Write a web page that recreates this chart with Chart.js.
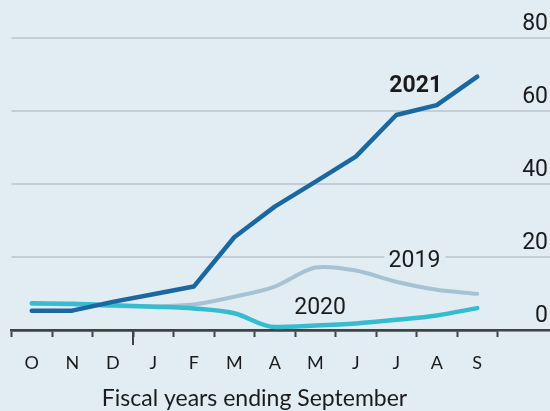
<!DOCTYPE html>
<html>
<head>
<meta charset="utf-8">
<script src="https://cdn.jsdelivr.net/npm/chart.js@4.4.0/dist/chart.umd.min.js"></script>
<style>
  body { margin: 0; background: #e2ecf3; }
  canvas { display: block; }
</style>
</head>
<body>
<canvas id="chart" width="550" height="411"></canvas>
<script>
// Months of the fiscal year (Oct - Sep)
const months = ['O', 'N', 'D', 'J', 'F', 'M', 'A', 'M', 'J', 'J', 'A', 'S'];

// Series values
const fy2021 = [5.3, 5.3, 7.7, 9.8, 11.9, 25.4, 33.8, 40.6, 47.5, 58.9, 61.6, 69.4];
const fy2020 = [7.3, 7.2, 6.8, 6.4, 5.9, 4.6, 0.8, 1.2, 1.8, 2.8, 4.0, 6.0];
const fy2019 = [7.2, 7.0, 6.6, 6.5, 7.0, 9.1, 11.9, 17.1, 16.3, 13.2, 11.0, 9.9];

const yTicks = [0, 20, 40, 60, 80];
const xTitle = 'Fiscal years ending September';

const BG = '#e2ecf3';
const GRID = '#c5ced5';
const AXIS = '#3f4346';
const TEXT = '#1b1b1b';
const NARROW = "'Liberation Sans Narrow', 'Arial Narrow', Roboto, sans-serif";

// background, gap behind "2019", long year tick, series names
const decor = {
  id: 'decor',
  beforeDraw(chart) {
    const { ctx, width, height } = chart;
    ctx.save();
    ctx.fillStyle = BG;
    ctx.fillRect(0, 0, width, height);
    ctx.restore();
  },
  beforeDatasetsDraw(chart) {
    const { ctx, scales: { x, y } } = chart;
    const cx = x.getPixelForValue(9.45);
    ctx.save();
    ctx.fillStyle = BG;
    ctx.fillRect(cx - 30, y.getPixelForValue(20) - 4, 61, 8);
    ctx.restore();
  },
  afterDatasetsDraw(chart) {
    const { ctx, scales: { x, y } } = chart;
    ctx.save();
    ctx.fillStyle = TEXT;
    ctx.textAlign = 'center';
    ctx.textBaseline = 'alphabetic';
    ctx.font = 'bold 23px ' + NARROW;
    ctx.fillText('2021', x.getPixelForValue(9.48), y.getPixelForValue(65.3));
    ctx.font = '23px ' + NARROW;
    ctx.fillText('2019', x.getPixelForValue(9.45), y.getPixelForValue(17.2));
    ctx.fillText('2020', x.getPixelForValue(7.12), y.getPixelForValue(4.4));
    ctx.restore();
  },
  afterDraw(chart) {
    const { ctx, scales: { x, y } } = chart;
    const bx = (x.getPixelForValue(2) + x.getPixelForValue(3)) / 2;
    ctx.save();
    ctx.strokeStyle = AXIS;
    ctx.lineWidth = 2;
    ctx.beginPath();
    ctx.moveTo(bx, y.bottom);
    ctx.lineTo(bx, y.bottom + 15);
    ctx.stroke();
    ctx.restore();
  }
};

new Chart(document.getElementById('chart'), {
  type: 'line',
  data: {
    labels: months,
    datasets: [
      {
        label: '2021', data: fy2021, borderColor: '#1b67a0', borderWidth: 4.5,
        tension: 0, pointRadius: 0, borderCapStyle: 'round', borderJoinStyle: 'round'
      },
      {
        label: '2020', data: fy2020, borderColor: '#36bccf', borderWidth: 4.5,
        tension: 0.3, cubicInterpolationMode: 'monotone', pointRadius: 0,
        borderCapStyle: 'round', borderJoinStyle: 'round'
      },
      {
        label: '2019', data: fy2019, borderColor: '#a6c2d4', borderWidth: 4,
        tension: 0.3, pointRadius: 0,
        borderCapStyle: 'round', borderJoinStyle: 'round'
      }
    ]
  },
  options: {
    responsive: false,
    animation: false,
    layout: { padding: { left: 11.5, right: 2, top: 38, bottom: 0 } },
    plugins: { legend: { display: false }, tooltip: { enabled: false } },
    scales: {
      x: {
        type: 'category',
        offset: true,
        afterFit(scale) { scale.height = 81; },
        border: { display: true, color: AXIS, width: 2.5 },
        grid: {
          offset: true, drawOnChartArea: false, drawTicks: true,
          tickLength: 7, tickColor: AXIS, tickWidth: 2
        },
        ticks: {
          color: TEXT, padding: 15, maxRotation: 0, autoSkip: false,
          font: { family: 'Lato', size: 18 }
        },
        title: {
          display: true, text: xTitle, color: TEXT,
          font: { family: 'Lato', size: 23, lineHeight: 1 },
          padding: { top: 0, bottom: 1 }
        }
      },
      y: {
        position: 'right',
        min: 0,
        max: 80,
        afterFit(scale) { scale.width = 50.5; },
        afterBuildTicks(scale) { scale.ticks = yTicks.map(v => ({ value: v })); },
        border: { display: false },
        grid: {
          drawTicks: true,
          tickLength: 52.5,
          color: ctx => ctx.tick && ctx.tick.value === 0 ? AXIS : GRID,
          tickColor: ctx => ctx.tick && ctx.tick.value === 0 ? AXIS : GRID,
          lineWidth: ctx => ctx.tick && ctx.tick.value === 0 ? 2.5 : 2,
          tickWidth: ctx => ctx.tick && ctx.tick.value === 0 ? 2.5 : 2
        },
        ticks: {
          color: TEXT, crossAlign: 'far', padding: 0, labelOffset: -13.5,
          font: { family: NARROW, size: 23 }
        }
      }
    }
  },
  plugins: [decor]
});
</script>
</body>
</html>
